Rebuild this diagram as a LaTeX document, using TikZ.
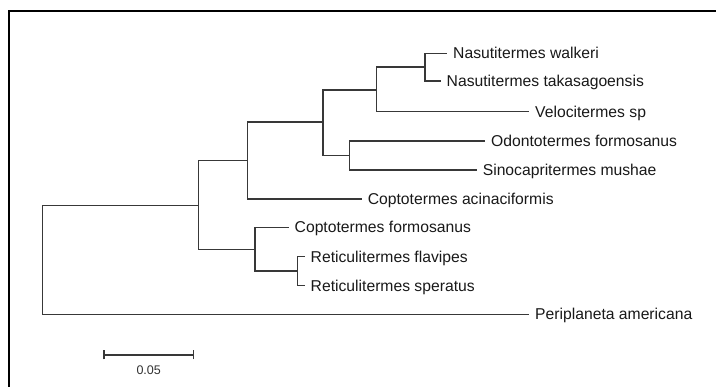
\documentclass[tikz,border=0pt]{standalone}
\usepackage{fontspec}
\setmainfont{Liberation Sans}
\begin{document}
\begin{tikzpicture}[x=1pt,y=-1pt,
  branch/.style={draw=black!78, line width=1.4pt},
  leaf/.style={anchor=west, inner xsep=6pt, inner ysep=0pt, text height=11pt, text depth=0pt,
    font=\fontsize{15.7}{18}\selectfont, text=black!90},
  frameline/.style={draw=black, line width=2pt},
  scalelbl/.style={font=\fontsize{12.5}{14}\selectfont, text=black!80, inner sep=0pt}]
\useasboundingbox (0,0) rectangle (716,387);
\fill[white] (0,0) rectangle (716,387);
% frame
\coordinate (fb) at (9,387);
\coordinate (ftl) at (9,11);
\coordinate (fr) at (716,11);
\draw[frameline] (fb) -- (ftl) -- (fr);
% internal nodes
\coordinate (R) at (42.5,260);
\coordinate (A) at (198.6,205.5);
\coordinate (B) at (247.5,160.5);
\coordinate (C) at (323,122);
\coordinate (D) at (376.7,90);
\coordinate (E) at (425,67);
\coordinate (F) at (349.3,155.5);
\coordinate (G) at (254.8,249.5);
\coordinate (H) at (297.7,271.2);
% leaves
\node[leaf] (nw) at (447,53.3) {Nasutitermes walkeri};
\node[leaf] (nt) at (440.5,81) {Nasutitermes takasagoensis};
\node[leaf] (vs) at (529,111.8) {Velocitermes sp};
\node[leaf] (of) at (485,141) {Odontotermes formosanus};
\node[leaf] (sm) at (476.6,170) {Sinocapritermes mushae};
\node[leaf] (ca) at (361.6,199) {Coptotermes acinaciformis};
\node[leaf] (cf) at (288.5,227.3) {Coptotermes formosanus};
\node[leaf] (rf) at (304.5,256.7) {Reticulitermes flavipes};
\node[leaf] (rs) at (304.5,285.7) {Reticulitermes speratus};
\node[leaf] (pa) at (529,314.3) {Periplaneta americana};
% branches
\draw[branch] (R) |- (A);
\draw[branch] (R) |- (pa.west);
\draw[branch] (A) |- (B);
\draw[branch] (A) |- (G);
\draw[branch] (B) |- (C);
\draw[branch] (B) |- (ca.west);
\draw[branch] (C) |- (D);
\draw[branch] (C) |- (F);
\draw[branch] (D) |- (E);
\draw[branch] (D) |- (vs.west);
\draw[branch] (E) |- (nw.west);
\draw[branch] (E) |- (nt.west);
\draw[branch] (F) |- (of.west);
\draw[branch] (F) |- (sm.west);
\draw[branch] (G) |- (cf.west);
\draw[branch] (G) |- (H);
\draw[branch] (H) |- (rf.west);
\draw[branch] (H) |- (rs.west);
% scale bar
\coordinate (s1) at (104,355);
\coordinate (s2) at (193.5,355);
\draw[branch] (s1) -- (s2);
\draw[branch] ([yshift=-4.5pt]s1) -- ([yshift=4.5pt]s1);
\draw[branch] ([yshift=-4.5pt]s2) -- ([yshift=4.5pt]s2);
\node[scalelbl] (sl) at (148.7,370) {0.05};
\end{tikzpicture}
\end{document}
